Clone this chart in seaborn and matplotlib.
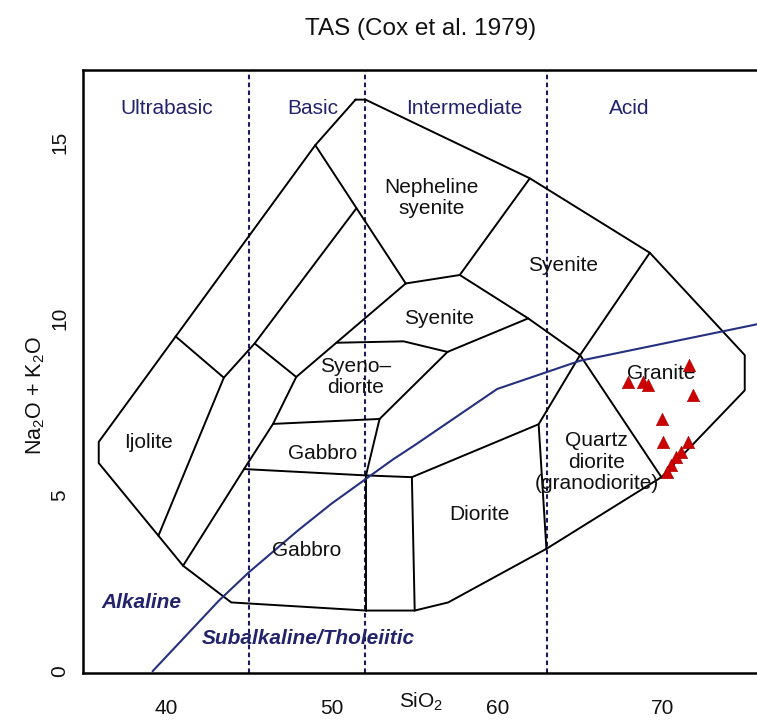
import matplotlib
matplotlib.use("Agg")
import matplotlib.pyplot as plt
import seaborn as sns
import pandas as pd

# ---------------- data ----------------
SAMPLE_SIO2 = [67.9, 68.81, 69.11, 71.55, 71.82, 69.93, 70.0, 71.5, 71.1, 70.8, 70.5, 70.25]
SAMPLE_ALK = [8.20, 8.20, 8.11, 8.68, 7.83, 7.15, 6.50, 6.49, 6.21, 6.06, 5.84, 5.66]

# field boundaries (SiO2, Na2O+K2O)
OUTER_X = [51.45, 52.05, 61.97, 69.21, 74.94, 74.94, 69.91, 62.97, 57.04, 55.02, 52.08,
           43.95, 41.04, 35.95, 35.95, 49.02, 51.45]
OUTER_Y = [16.2, 16.2, 13.97, 11.86, 8.96, 7.96, 5.5, 3.47, 1.95, 1.72, 1.72,
           1.95, 2.99, 5.9, 6.5, 14.91, 16.2]
IJOLITE_TOP_X = [40.59, 43.5]
IJOLITE_TOP_Y = [9.49, 8.32]
INNER_A_X = [49.02, 54.48]
INNER_A_Y = [14.91, 10.99]
INNER_B_X = [51.5, 45.36, 43.5, 39.55]
INNER_B_Y = [13.12, 9.29, 8.32, 3.84]
SHORT_B_X = [45.36, 47.87]
SHORT_B_Y = [9.29, 8.34]
STRIP_X = [54.48, 47.87, 46.47, 44.72, 41.04]
STRIP_Y = [10.99, 8.34, 7.01, 5.73, 2.99]
SYENODIORITE_TOP_X = [50.3, 54.35, 57.0]
SYENODIORITE_TOP_Y = [9.31, 9.35, 9.05]
SYENITE_TOP_X = [54.48, 57.74]
SYENITE_TOP_Y = [10.99, 11.23]
NESY_RIGHT_X = [57.74, 61.97]
NESY_RIGHT_Y = [11.23, 13.97]
SYENITE_LOWER_X = [57.74, 61.87, 65.0]
SYENITE_LOWER_Y = [11.23, 10.0, 8.96]
SYENITE_SE_X = [61.87, 57.0]
SYENITE_SE_Y = [10.0, 9.05]
SYENODIORITE_RIGHT_X = [57.0, 52.9]
SYENODIORITE_RIGHT_Y = [9.05, 7.15]
GRANITE_NW_X = [69.21, 65.0]
GRANITE_NW_Y = [11.86, 8.96]
GRANITE_SW_X = [65.0, 69.91]
GRANITE_SW_Y = [8.96, 5.5]
QDIORITE_W_X = [65.0, 62.5, 62.97]
QDIORITE_W_Y = [8.96, 7.0, 3.47]
DIORITE_TOP_X = [62.5, 54.85]
DIORITE_TOP_Y = [7.0, 5.5]
DIORITE_W_X = [54.85, 55.02]
DIORITE_W_Y = [5.5, 1.72]
GABBRO_TOP_X = [44.72, 52.08, 54.85]
GABBRO_TOP_Y = [5.73, 5.55, 5.5]
GABBRO_E_X = [52.08, 52.08]
GABBRO_E_Y = [5.55, 1.72]
UGABBRO_E_X = [52.08, 52.9]
UGABBRO_E_Y = [5.55, 7.15]
UGABBRO_TOP_X = [46.47, 52.9]
UGABBRO_TOP_Y = [7.01, 7.15]

# alkaline / subalkaline divide (Irvine & Baragar 1971)
IB_X = [39.2, 40, 43.2, 45, 48, 50, 53.7, 55, 60, 65, 77.4]
IB_Y = [0, 0.4, 2, 2.8, 4, 4.75, 6, 6.4, 8, 8.8, 10]

DIVIDER_SIO2 = [45, 52, 63]

FIELD_NAMES = ["Nepheline\nsyenite", "Syenite", "Syenite", "Syeno\u2013\ndiorite", "Gabbro",
               "Gabbro", "Ijolite", "Diorite", "Quartz\ndiorite\n(granodiorite)", "Granite"]
FIELD_X = [56.03, 63.96, 56.48, 51.45, 49.44, 48.48, 38.98, 58.95, 65.99, 69.9]
FIELD_Y = [13.42, 11.51, 10.0, 8.33, 6.16, 3.42, 6.47, 4.43, 5.93, 8.44]

GROUP_NAMES = ["Ultrabasic", "Basic", "Intermediate", "Acid"]
GROUP_X = [40.03, 48.88, 57.99, 67.96]
GROUP_Y = [15.95, 15.95, 15.95, 15.95]

SERIES_NAMES = ["Alkaline", "Subalkaline/Tholeiitic"]
SERIES_X = [38.52, 48.62]
SERIES_Y = [1.94, 0.94]

XTICKS = [40, 50, 60, 70]
YTICKS = [0, 5, 10, 15]

# ---------------- style ----------------
sns.set_style("white")
plt.rcParams["font.family"] = ["Liberation Sans", "DejaVu Sans"]
plt.rcParams["mathtext.default"] = "regular"

NAVY = "#23236b"
LINE_NAVY = "#25307f"

fig = plt.figure(figsize=(7.57, 7.24), dpi=100)
ax = fig.add_axes([83 / 757, 51 / 724, (757 - 83) / 757, (673 - 70) / 724])
ax.set_xlim(35, 75.68)
ax.set_ylim(-0.05, 17.04)

boundaries = [
    (OUTER_X, OUTER_Y), (IJOLITE_TOP_X, IJOLITE_TOP_Y), (INNER_A_X, INNER_A_Y),
    (INNER_B_X, INNER_B_Y), (SHORT_B_X, SHORT_B_Y), (STRIP_X, STRIP_Y),
    (SYENODIORITE_TOP_X, SYENODIORITE_TOP_Y), (SYENITE_TOP_X, SYENITE_TOP_Y),
    (NESY_RIGHT_X, NESY_RIGHT_Y), (SYENITE_LOWER_X, SYENITE_LOWER_Y),
    (SYENITE_SE_X, SYENITE_SE_Y), (SYENODIORITE_RIGHT_X, SYENODIORITE_RIGHT_Y),
    (GRANITE_NW_X, GRANITE_NW_Y), (GRANITE_SW_X, GRANITE_SW_Y),
    (QDIORITE_W_X, QDIORITE_W_Y), (DIORITE_TOP_X, DIORITE_TOP_Y),
    (DIORITE_W_X, DIORITE_W_Y), (GABBRO_TOP_X, GABBRO_TOP_Y),
    (GABBRO_E_X, GABBRO_E_Y), (UGABBRO_E_X, UGABBRO_E_Y),
    (UGABBRO_TOP_X, UGABBRO_TOP_Y),
]
for bx, by in boundaries:
    df = pd.DataFrame({"x": bx, "y": by})
    sns.lineplot(data=df, x="x", y="y", sort=False, estimator=None, color="black",
                 linewidth=1.4, ax=ax, zorder=3)

for xv in DIVIDER_SIO2:
    ax.axvline(xv, color="#1a1a5c", linewidth=1.5, linestyle=(0, (2.2, 1.6)), zorder=2)

ib = pd.DataFrame({"x": IB_X, "y": IB_Y})
sns.lineplot(data=ib, x="x", y="y", sort=False, estimator=None, color=LINE_NAVY,
             linewidth=1.5, ax=ax, zorder=4)

sns.scatterplot(x=SAMPLE_SIO2, y=SAMPLE_ALK, marker="^", s=80, color="#cc0000",
                edgecolor="#b00000", linewidth=0.4, ax=ax, zorder=6)

for name, x, y in zip(FIELD_NAMES, FIELD_X, FIELD_Y):
    ax.text(x, y, name, ha="center", va="center", fontsize=15, color="#111111",
            linespacing=1.15, zorder=5)
for name, x, y in zip(GROUP_NAMES, GROUP_X, GROUP_Y):
    ax.text(x, y, name, ha="center", va="center", fontsize=15, color=NAVY, zorder=5)
for name, x, y in zip(SERIES_NAMES, SERIES_X, SERIES_Y):
    ax.text(x, y, name, ha="center", va="center", fontsize=15, color=NAVY,
            fontweight="bold", fontstyle="italic", zorder=5)

ax.set_xticks(XTICKS)
ax.set_yticks(YTICKS)
ax.set_xticklabels([str(t) for t in XTICKS])
ax.set_yticklabels([str(t) for t in YTICKS], rotation=90, va="center")
ax.tick_params(axis="both", which="major", direction="out", length=9, width=1.3,
               color="black", labelsize=15, labelcolor="#111111")
ax.tick_params(axis="x", pad=10)
ax.tick_params(axis="y", pad=1)
ax.set_xlabel("")
ax.set_ylabel("")
ax.grid(False)

for side in ["left", "bottom", "top"]:
    ax.spines[side].set_visible(True)
    ax.spines[side].set_linewidth(1.8)
    ax.spines[side].set_color("black")
ax.spines["right"].set_visible(False)

fig.text(421 / 757, 1 - 708 / 724, "SiO$_2$", ha="center", va="baseline", fontsize=15,
         color="#111111")
fig.text(36 / 757, 1 - 395 / 724, "Na$_2$O + K$_2$O", ha="center", va="center",
         rotation=90, fontsize=15.5, color="#111111")
fig.text(421 / 757, 1 - 29 / 724, "TAS (Cox et al. 1979)", ha="center", va="center",
         fontsize=17.5, color="#111111")

fig.savefig("out.png", dpi=100)
